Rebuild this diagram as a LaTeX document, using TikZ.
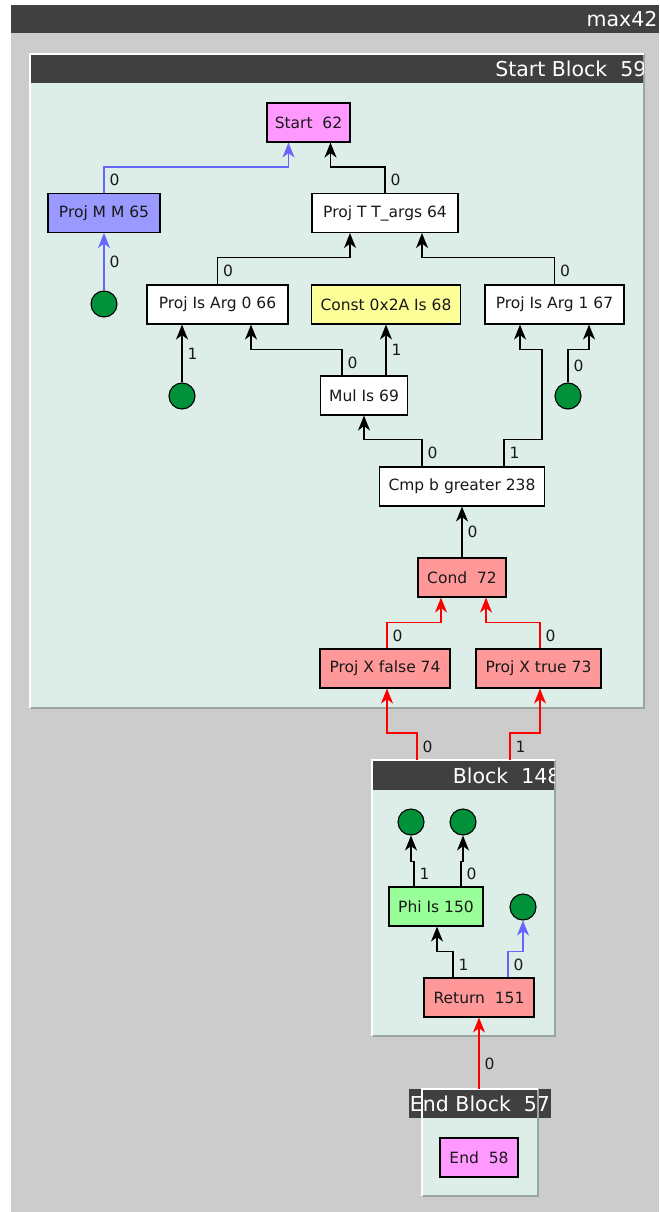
\documentclass[tikz,border=0pt]{standalone}
\usepackage{fontspec}
\setmainfont{DejaVu Sans}
\usepackage{tikz}
\usetikzlibrary{arrows.meta}
\definecolor{bggray}{RGB}{204,204,204}
\definecolor{bardark}{RGB}{64,64,64}
\definecolor{blockbg}{RGB}{221,237,232}
\definecolor{blockrim}{RGB}{152,166,161}
\definecolor{nodepink}{RGB}{255,153,255}
\definecolor{nodeblue}{RGB}{153,153,255}
\definecolor{nodeyellow}{RGB}{255,255,153}
\definecolor{nodered}{RGB}{255,153,153}
\definecolor{nodegreen}{RGB}{153,255,153}
\definecolor{portgreen}{RGB}{0,145,58}
\definecolor{edgeblue}{RGB}{102,102,255}
\definecolor{edgered}{RGB}{255,0,0}
\newcommand{\opfont}{\fontsize{15.5}{18}\selectfont}
\newcommand{\blkfont}{\fontsize{20.5}{24}\selectfont}

\begin{document}
\begin{tikzpicture}[
  x=1pt, y=-1pt,
  op/.style={draw, line width=1.1pt, minimum height=39pt, inner sep=0pt, font=\opfont, text=black!90},
  port/.style={circle, draw, line width=1.1pt, fill=portgreen, minimum size=26pt, inner sep=0pt},
  blktitle/.style={text=white, font=\blkfont, inner sep=0pt},
  lbl/.style={right, inner sep=5pt, font=\opfont, text=black!90},
  >={Stealth[length=15pt,width=12pt,inset=4.5pt]}, line width=1.2pt,
]
\useasboundingbox (0,0) rectangle (659,1212);
\fill[bggray] (11,33) rectangle (659,1212);
\fill[bardark] (11,5) rectangle (659,33);
\node[blktitle, anchor=east] (graph) at (658,19) {max42};

% Start Block
\fill[blockbg] (30,54) rectangle (644,708);
\draw[blockrim, line width=2pt] (644,54) -- (644,708) -- (30,708);
\draw[white, line width=2pt] (30,708) -- (30,54) -- (644,54);
\fill[bardark] (31,55) rectangle (643,83);
\begin{scope}
  \clip (31,55) rectangle (643,83);
  \node[blktitle, anchor=east] (sbt) at (647,69) {Start Block~~59};
\end{scope}

\node[op, fill=nodepink, minimum width=83pt] (start) at (308.5,122.5) {Start~~62};
\node[op, fill=nodeblue, minimum width=112pt] (pmm) at (104,213) {Proj M M 65};
\node[op, fill=white, minimum width=146pt] (pT) at (385,213) {Proj T T\_args 64};
\node[port] (c1) at (104,304) {};
\node[op, fill=white, minimum width=141pt] (pa0) at (217.5,304.5) {Proj Is Arg 0 66};
\node[op, fill=nodeyellow, minimum width=149pt] (const) at (386,304.5) {Const 0x2A Is 68};
\node[op, fill=white, minimum width=139pt] (pa1) at (554.5,304.5) {Proj Is Arg 1 67};
\node[port] (c2) at (182,396) {};
\node[op, fill=white, minimum width=87pt] (mul) at (364,395.5) {Mul Is 69};
\node[port] (c3) at (568,396) {};
\node[op, fill=white, minimum width=165pt] (cmp) at (462,486.5) {Cmp b greater 238};
\node[op, fill=nodered, minimum width=88pt] (cond) at (462,577.5) {Cond~~72};
\node[op, fill=nodered, minimum width=130pt] (pxf) at (385,668.5) {Proj X false 74};
\node[op, fill=nodered, minimum width=125pt] (pxt) at (538.5,668.5) {Proj X true 73};

\draw[edgeblue, ->] (pmm.north) -- node[lbl]{0} ++(0,-26) -| ([xshift=-20pt]start.south);
\draw[->] (pT.north) -- node[lbl]{0} ++(0,-26) -| ([xshift=22pt]start.south);
\draw[edgeblue, ->] (c1.north) -- node[lbl]{0} (pmm.south);
\draw[->] (pa0.north) -- node[lbl]{0} ++(0,-27) -| ([xshift=-35pt]pT.south);
\draw[->] (pa1.north) -- node[lbl]{0} ++(0,-27) -| ([xshift=37pt]pT.south);
\draw[->] (c2.north) -- node[lbl]{1} ([xshift=-35.5pt]pa0.south);
\draw[->] ([xshift=-22pt]mul.north) -- node[lbl]{0} ++(0,-26) -| ([xshift=33.5pt]pa0.south);
\draw[->] ([xshift=22pt]mul.north) -- node[lbl]{1} (const.south);
\draw[->] (c3.north) -- node[lbl]{0} ++(0,-33) -| ([xshift=34.5pt]pa1.south);
\draw[->] ([xshift=-40pt]cmp.north) -- node[lbl]{0} ++(0,-27) -| (mul.south);
\draw[->] ([xshift=42pt]cmp.north) -- node[lbl]{1} ++(0,-27) -- ++(38,0) -- ++(0,-90) -| ([xshift=-34.5pt]pa1.south);
\draw[->] (cond.north) -- node[lbl]{0} (cmp.south);
\draw[edgered, ->] ([xshift=2pt]pxf.north) -- node[lbl]{0} ++(0,-26) -| ([xshift=-21pt]cond.south);
\draw[edgered, ->] ([xshift=1.5pt]pxt.north) -- node[lbl]{0} ++(0,-26) -| ([xshift=24pt]cond.south);

% Block 148
\fill[blockbg] (372,760) rectangle (555,1036);
\draw[blockrim, line width=2pt] (555,760) -- (555,1036) -- (372,1036);
\draw[white, line width=2pt] (372,1036) -- (372,760) -- (555,760);
\fill[bardark] (373,761) rectangle (554,790);
\begin{scope}
  \clip (373,761) rectangle (554,790);
  \node[blktitle, anchor=east] (b148t) at (561,776) {Block~~148};
\end{scope}
\coordinate (b148l) at (417,760);
\coordinate (b148r) at (510,760);

\node[port] (c4) at (411,822) {};
\node[port] (c5) at (463,822) {};
\node[op, fill=nodegreen, minimum width=94pt] (phi) at (436,906.5) {Phi Is 150};
\node[port] (c6) at (523,907) {};
\node[op, fill=nodered, minimum width=110pt] (ret) at (479,997.5) {Return~~151};

\draw[edgered, ->] (b148l) -- node[lbl]{0} ++(0,-27) -| ([xshift=2pt]pxf.south);
\draw[edgered, ->] (b148r) -- node[lbl]{1} ++(0,-27) -| ([xshift=1.5pt]pxt.south);
\draw[->] ([xshift=-22pt]phi.north) -- node[lbl]{1} ++(0,-25) -| (c4.south);
\draw[->] ([xshift=25pt]phi.north) -- node[lbl]{0} ++(0,-25) -| (c5.south);
\draw[->] ([xshift=-26pt]ret.north) -- node[lbl]{1} ++(0,-26) -| ([xshift=1pt]phi.south);
\draw[edgeblue, ->] ([xshift=29pt]ret.north) -- node[lbl]{0} ++(0,-26) -| (c6.south);

% End Block
\fill[blockbg] (422,1089) rectangle (538,1196);
\fill[bardark] (409,1089) rectangle (551,1118);
\node[blktitle] (ebt) at (480,1104) {End Block~~57};
\draw[blockrim, line width=2pt] (538,1089) -- (538,1196) -- (422,1196);
\draw[white, line width=2pt] (422,1196) -- (422,1089) -- (538,1089);
\coordinate (endtop) at (479,1089);

\node[op, fill=nodepink, minimum width=78pt] (end) at (479,1157.5) {End~~58};

\draw[edgered, ->] (endtop) -- node[lbl, pos=0.35]{0} (ret.south);
\end{tikzpicture}
\end{document}
